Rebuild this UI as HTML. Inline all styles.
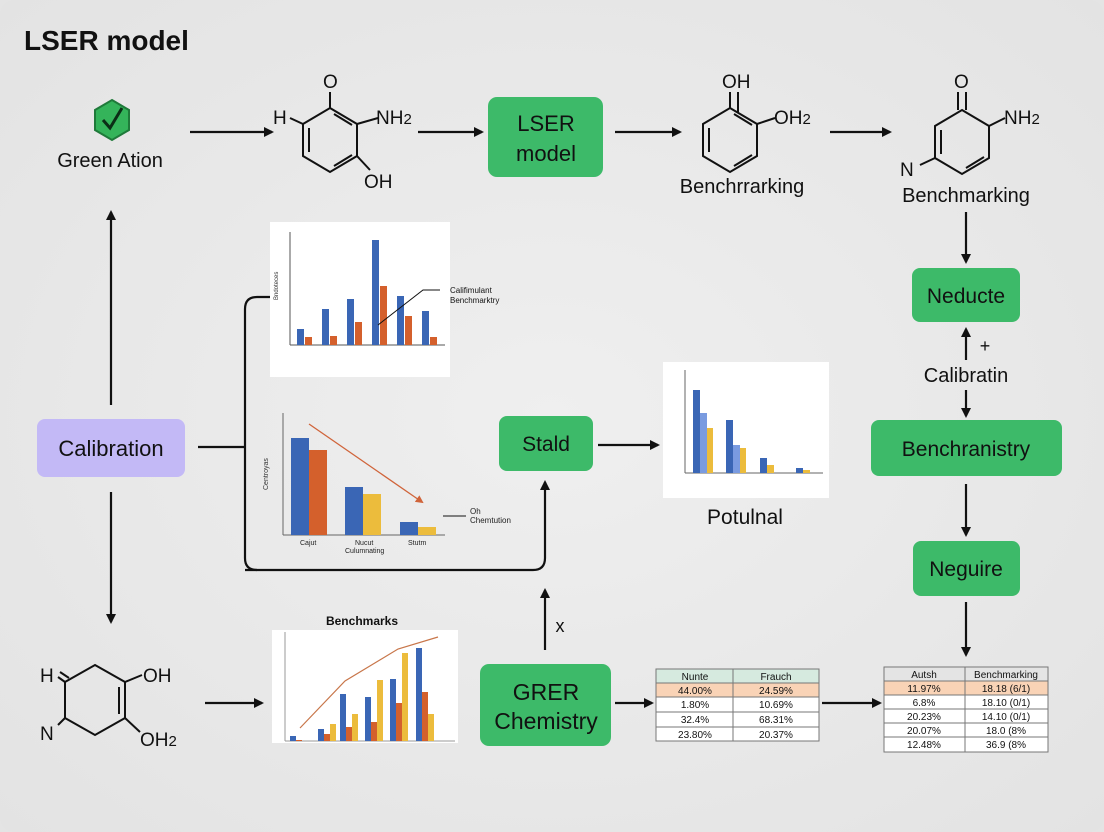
<!DOCTYPE html>
<html><head><meta charset="utf-8"><style>
html,body{margin:0;padding:0;background:#e4e4e4}
svg{display:block;font-family:"Liberation Sans",sans-serif}
</style></head><body>
<svg width="1104" height="832" viewBox="0 0 1104 832" xmlns="http://www.w3.org/2000/svg">
<defs>
<marker id="a" markerWidth="10" markerHeight="10" refX="8" refY="5" orient="auto" markerUnits="userSpaceOnUse"><path d="M0,0 L10,5 L0,10 z" fill="#111"/></marker>
<marker id="o" markerWidth="8" markerHeight="8" refX="6" refY="4" orient="auto" markerUnits="userSpaceOnUse"><path d="M0,0 L8,4 L0,8 z" fill="#d0643a"/></marker>
<radialGradient id="bg" cx="50%" cy="50%" r="70%"><stop offset="0" stop-color="#efefef"/><stop offset="1" stop-color="#e3e3e3"/></radialGradient>
</defs>
<rect x="0" y="0" width="1104" height="832" rx="14" fill="url(#bg)"/>
<text x="24" y="50" font-size="28" font-weight="bold" fill="#111">LSER model</text>

<g stroke="#111" stroke-width="2.2" fill="none" marker-end="url(#a)">
<line x1="190" y1="132" x2="272" y2="132"/>
<line x1="418" y1="132" x2="482" y2="132"/>
<line x1="615" y1="132" x2="680" y2="132"/>
<line x1="830" y1="132" x2="890" y2="132"/>
<line x1="966" y1="212" x2="966" y2="262"/>
<line x1="966" y1="360" x2="966" y2="329"/>
<line x1="966" y1="390" x2="966" y2="416"/>
<line x1="966" y1="484" x2="966" y2="535"/>
<line x1="966" y1="602" x2="966" y2="655"/>
<line x1="111" y1="405" x2="111" y2="212"/>
<line x1="111" y1="492" x2="111" y2="622"/>
<line x1="598" y1="445" x2="658" y2="445"/>
<line x1="545" y1="650" x2="545" y2="590"/>
<line x1="615" y1="703" x2="652" y2="703"/>
<line x1="822" y1="703" x2="880" y2="703"/>
<line x1="205" y1="703" x2="262" y2="703"/>
<path d="M245,570 H533 Q545,570 545,558 V482"/>
</g>
<path d="M198,447 H245 M270,297 H257 Q245,297 245,309 V558 Q245,570 257,570" stroke="#111" stroke-width="2.2" fill="none"/>

<polygon points="112,100 129,110 129,130 112,140 95,130 95,110" fill="#34b45a" stroke="#1f7a3a" stroke-width="2"/>
<path d="M103,120 L110,128 L122,108" stroke="#0b2e16" stroke-width="3" fill="none"/>
<text x="110" y="167" font-size="20" text-anchor="middle" fill="#111">Green Ation</text>

<g stroke="#111" stroke-width="2" fill="none">
<polygon points="330,108 357,124 357,156 330,172 303,156 303,124"/>
<line x1="309" y1="128" x2="309" y2="152"/><line x1="334" y1="166" x2="352" y2="155"/><line x1="334" y1="114" x2="352" y2="125"/>
<line x1="330" y1="108" x2="330" y2="92"/><line x1="357" y1="124" x2="378" y2="118"/><line x1="357" y1="156" x2="370" y2="170"/><line x1="303" y1="124" x2="290" y2="118"/>
</g>
<g font-size="19" fill="#111">
<text x="273" y="124">H</text><text x="323" y="88">O</text><text x="376" y="124">NH<tspan font-size="15">2</tspan></text><text x="364" y="188">OH</text>
</g>

<rect x="488" y="97" width="115" height="80" rx="9" fill="#3dba69"/>
<text x="546" y="131" font-size="22" text-anchor="middle" fill="#111">LSER</text>
<text x="546" y="161" font-size="22" text-anchor="middle" fill="#111">model</text>

<g stroke="#111" stroke-width="2" fill="none">
<polygon points="730,108 757,124 757,156 730,172 703,156 703,124"/>
<line x1="709" y1="128" x2="709" y2="152"/><line x1="734" y1="166" x2="752" y2="155"/><line x1="734" y1="114" x2="752" y2="125"/>
<line x1="730" y1="108" x2="730" y2="92"/><line x1="738" y1="112" x2="738" y2="92"/><line x1="757" y1="124" x2="775" y2="118"/>
</g>
<g font-size="19" fill="#111">
<text x="722" y="88">OH</text><text x="774" y="124">OH<tspan font-size="15">2</tspan></text>
<text x="742" y="193" font-size="20" text-anchor="middle">Benchrrarking</text>
</g>

<g stroke="#111" stroke-width="2" fill="none">
<polygon points="962,110 989,126 989,158 962,174 935,158 935,126"/>
<line x1="941" y1="130" x2="941" y2="154"/><line x1="966" y1="168" x2="984" y2="157"/>
<line x1="958" y1="110" x2="958" y2="92"/><line x1="966" y1="110" x2="966" y2="92"/><line x1="989" y1="126" x2="1005" y2="118"/><line x1="935" y1="158" x2="920" y2="165"/>
</g>
<g font-size="19" fill="#111">
<text x="954" y="88">O</text><text x="1004" y="124">NH<tspan font-size="15">2</tspan></text><text x="900" y="176">N</text>
<text x="966" y="202" font-size="20" text-anchor="middle">Benchmarking</text>
</g>

<rect x="912" y="268" width="108" height="54" rx="8" fill="#3dba69"/>
<text x="966" y="303" font-size="21" text-anchor="middle" fill="#111">Neducte</text>
<text x="985" y="352" font-size="18" text-anchor="middle" fill="#111">+</text>
<text x="966" y="382" font-size="20" text-anchor="middle" fill="#111">Calibratin</text>
<rect x="871" y="420" width="191" height="56" rx="8" fill="#3dba69"/>
<text x="966" y="456" font-size="21" text-anchor="middle" fill="#111">Benchranistry</text>
<rect x="913" y="541" width="107" height="55" rx="8" fill="#3dba69"/>
<text x="966" y="576" font-size="21" text-anchor="middle" fill="#111">Neguire</text>

<rect x="37" y="419" width="148" height="58" rx="8" fill="#c3b9f6"/>
<text x="111" y="456" font-size="22" text-anchor="middle" fill="#111">Calibration</text>

<rect x="270" y="222" width="180" height="155" fill="#fff"/>
<g stroke="#555" stroke-width="1"><line x1="290" y1="232" x2="290" y2="345"/><line x1="290" y1="345" x2="445" y2="345"/></g>
<g fill="#3a66b5"><rect x="297" y="329" width="7" height="16"/><rect x="322" y="309" width="7" height="36"/><rect x="347" y="299" width="7" height="46"/><rect x="372" y="240" width="7" height="105"/><rect x="397" y="296" width="7" height="49"/><rect x="422" y="311" width="7" height="34"/></g>
<g fill="#d4602c"><rect x="305" y="337" width="7" height="8"/><rect x="330" y="336" width="7" height="9"/><rect x="355" y="322" width="7" height="23"/><rect x="380" y="286" width="7" height="59"/><rect x="405" y="316" width="7" height="29"/><rect x="430" y="337" width="7" height="8"/></g>
<path d="M440,290 H423 L378,325" stroke="#111" stroke-width="1" fill="none"/>
<text x="450" y="293" font-size="8" fill="#111">Califimulant</text><text x="450" y="303" font-size="8" fill="#111">Benchmarktry</text>
<text x="278" y="300" font-size="6" fill="#333" transform="rotate(-90 278 300)">Bndoteces</text>

<g stroke="#666" stroke-width="1"><line x1="283" y1="413" x2="283" y2="535"/><line x1="283" y1="535" x2="445" y2="535"/></g>
<rect x="291" y="438" width="18" height="97" fill="#3a66b5"/><rect x="309" y="450" width="18" height="85" fill="#d4602c"/>
<rect x="345" y="487" width="18" height="48" fill="#3a66b5"/><rect x="363" y="494" width="18" height="41" fill="#ecbc3c"/>
<rect x="400" y="522" width="18" height="13" fill="#3a66b5"/><rect x="418" y="527" width="18" height="8" fill="#ecbc3c"/>
<line x1="309" y1="424" x2="422" y2="502" stroke="#d0643a" stroke-width="1.3" marker-end="url(#o)"/>
<g font-size="7" fill="#222"><text x="300" y="545">Cajut</text><text x="355" y="545">Nucut</text><text x="345" y="553">Culumnating</text><text x="408" y="545">Stutm</text>
<text x="470" y="514" font-size="8">Oh</text><text x="470" y="523" font-size="8">Chemtution</text></g>
<line x1="443" y1="516" x2="466" y2="516" stroke="#111" stroke-width="1"/>
<text x="268" y="490" font-size="7" fill="#333" transform="rotate(-90 268 490)">Centroyas</text>

<rect x="499" y="416" width="94" height="55" rx="8" fill="#3dba69"/>
<text x="546" y="451" font-size="21" text-anchor="middle" fill="#111">Stald</text>

<rect x="663" y="362" width="166" height="136" fill="#fff"/>
<g stroke="#666" stroke-width="1"><line x1="685" y1="370" x2="685" y2="473"/><line x1="685" y1="473" x2="823" y2="473"/></g>
<rect x="693" y="390" width="7" height="83" fill="#3a66b5"/><rect x="700" y="413" width="7" height="60" fill="#7a9be0"/><rect x="707" y="428" width="6" height="45" fill="#ecbc3c"/>
<rect x="726" y="420" width="7" height="53" fill="#3a66b5"/><rect x="733" y="445" width="7" height="28" fill="#7a9be0"/><rect x="740" y="448" width="6" height="25" fill="#ecbc3c"/>
<rect x="760" y="458" width="7" height="15" fill="#3a66b5"/><rect x="767" y="465" width="7" height="8" fill="#ecbc3c"/>
<rect x="796" y="468" width="7" height="5" fill="#3a66b5"/><rect x="803" y="470" width="7" height="3" fill="#ecbc3c"/>
<text x="745" y="524" font-size="21" text-anchor="middle" fill="#111">Potulnal</text>

<text x="560" y="632" font-size="18" text-anchor="middle" fill="#111">x</text>

<rect x="480" y="664" width="131" height="82" rx="9" fill="#3dba69"/>
<text x="546" y="700" font-size="23" text-anchor="middle" fill="#111">GRER</text>
<text x="546" y="729" font-size="23" text-anchor="middle" fill="#111">Chemistry</text>

<g font-size="10" fill="#111" text-anchor="middle">
<rect x="656" y="669" width="163" height="72" fill="#fff" stroke="#777"/>
<rect x="656" y="669" width="163" height="14" fill="#d6eadf" stroke="#777"/>
<rect x="656" y="683" width="163" height="14" fill="#f9d3b6" stroke="#777"/>
<line x1="656" y1="712" x2="819" y2="712" stroke="#777"/><line x1="656" y1="727" x2="819" y2="727" stroke="#777"/>
<line x1="733" y1="669" x2="733" y2="741" stroke="#777"/>
<text x="695" y="680">Nunte</text><text x="776" y="680">Frauch</text>
<text x="695" y="694">44.00%</text><text x="776" y="694">24.59%</text>
<text x="695" y="708">1.80%</text><text x="776" y="708">10.69%</text>
<text x="695" y="723">32.4%</text><text x="776" y="723">68.31%</text>
<text x="695" y="738">23.80%</text><text x="776" y="738">20.37%</text>
</g>

<g font-size="10" fill="#111" text-anchor="middle">
<rect x="884" y="667" width="164" height="85" fill="#fff" stroke="#777"/>
<rect x="884" y="667" width="164" height="14" fill="#e4e4e4" stroke="#777"/>
<rect x="884" y="681" width="164" height="14" fill="#f9d3b6" stroke="#777"/>
<line x1="884" y1="709" x2="1048" y2="709" stroke="#777"/><line x1="884" y1="723" x2="1048" y2="723" stroke="#777"/><line x1="884" y1="737" x2="1048" y2="737" stroke="#777"/>
<line x1="965" y1="667" x2="965" y2="752" stroke="#777"/>
<text x="924" y="678">Autsh</text><text x="1006" y="678">Benchmarking</text>
<text x="924" y="692">11.97%</text><text x="1006" y="692">18.18 (6/1)</text>
<text x="924" y="706">6.8%</text><text x="1006" y="706">18.10 (0/1)</text>
<text x="924" y="720">20.23%</text><text x="1006" y="720">14.10 (0/1)</text>
<text x="924" y="734">20.07%</text><text x="1006" y="734">18.0 (8%</text>
<text x="924" y="748">12.48%</text><text x="1006" y="748">36.9 (8%</text>
</g>

<g stroke="#111" stroke-width="2" fill="none">
<polygon points="95,665 125,682 125,718 95,735 65,718 65,682"/>
<line x1="119" y1="687" x2="119" y2="714"/><line x1="58" y1="677" x2="65" y2="682"/><line x1="60" y1="672" x2="69" y2="678"/>
<line x1="125" y1="682" x2="142" y2="675"/><line x1="125" y1="718" x2="140" y2="732"/><line x1="65" y1="718" x2="58" y2="725"/>
</g>
<g font-size="19" fill="#111">
<text x="40" y="682">H</text><text x="143" y="682">OH</text><text x="40" y="740">N</text><text x="140" y="746">OH<tspan font-size="15">2</tspan></text>
</g>

<text x="362" y="625" font-size="12" font-weight="bold" text-anchor="middle" fill="#111">Benchmarks</text>
<rect x="272" y="630" width="186" height="113" fill="#fff"/>
<g stroke="#999" stroke-width="1"><line x1="285" y1="632" x2="285" y2="741"/><line x1="285" y1="741" x2="455" y2="741"/></g>
<g fill="#3a66b5"><rect x="290" y="736" width="6" height="5"/><rect x="318" y="729" width="6" height="12"/><rect x="340" y="694" width="6" height="47"/><rect x="365" y="697" width="6" height="44"/><rect x="390" y="679" width="6" height="62"/><rect x="416" y="648" width="6" height="93"/></g>
<g fill="#d4602c"><rect x="296" y="740" width="6" height="1"/><rect x="324" y="734" width="6" height="7"/><rect x="346" y="727" width="6" height="14"/><rect x="371" y="722" width="6" height="19"/><rect x="396" y="703" width="6" height="38"/><rect x="422" y="692" width="6" height="49"/></g>
<g fill="#ecbc3c"><rect x="330" y="724" width="6" height="17"/><rect x="352" y="714" width="6" height="27"/><rect x="377" y="680" width="6" height="61"/><rect x="402" y="653" width="6" height="88"/><rect x="428" y="714" width="6" height="27"/></g>
<polyline points="300,728 345,681 398,649 438,637" stroke="#c8764a" stroke-width="1.2" fill="none"/>
</svg>
</body></html>
